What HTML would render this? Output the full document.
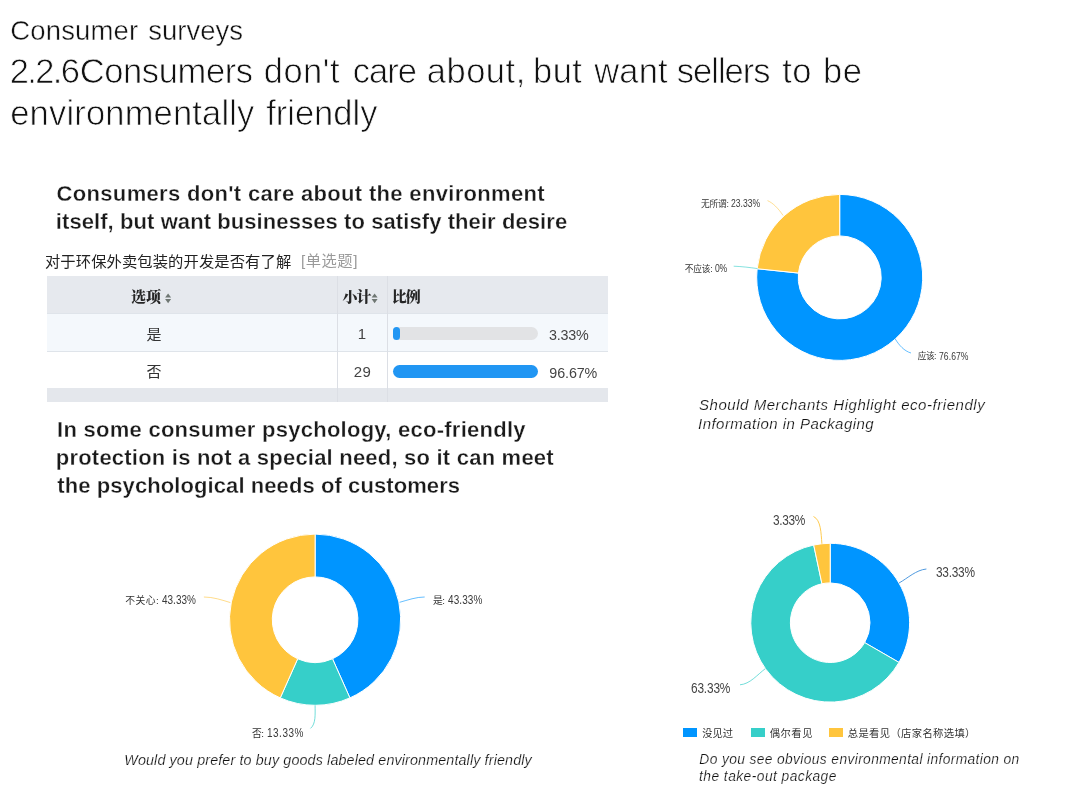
<!DOCTYPE html>
<html lang="en"><head><meta charset="utf-8"><title>Consumer surveys</title>
<style>
html,body{margin:0;padding:0;background:#fff;}
body{width:1065px;height:800px;position:relative;overflow:hidden;font-family:"Liberation Sans","Noto Sans CJK SC",sans-serif;color:#1a1a1a;}
.abs{position:absolute;white-space:nowrap;}
.tbl{position:absolute;left:47px;top:276px;width:561px;height:125.8px;overflow:hidden;}
.row{position:absolute;left:0;width:561px;box-sizing:border-box;}
.vl{position:absolute;top:0;width:1px;height:126px;background:#dcdfe5;}
.bar{position:absolute;left:345.8px;height:13px;border-radius:6.5px;}
.lg{position:absolute;top:728.3px;width:14px;height:8.5px;}
svg{position:absolute;left:0;top:0;}
</style></head><body>
<div class="tbl">
  <div class="row" style="top:0;height:37px;background:#e6e9ee;"></div>
  <div class="row" style="top:37px;height:38px;background:#f4f8fc;border-top:1px solid #dfe4ea;"></div>
  <div class="row" style="top:75px;height:37px;background:#fff;border-top:1px solid #dfe4ea;"></div>
  <div class="row" style="top:112px;height:14px;background:#e4e7ec;"></div>
  <div class="vl" style="left:289.5px;"></div>
  <div class="vl" style="left:340.3px;"></div>
  <div class="bar" style="top:51.3px;width:145.5px;background:#e2e3e5"></div>
  <div class="bar" style="top:51.3px;width:7px;background:#2196f3"></div>
  <div class="bar" style="top:89.4px;width:145.5px;background:#2196f3"></div>
</div>
<div class="lg" style="left:683px;background:#0095ff"></div>
<div class="lg" style="left:751px;background:#36cfc9"></div>
<div class="lg" style="left:829.3px;background:#ffc53d"></div>
<svg width="1065" height="800" viewBox="0 0 1065 800">
<path d="M839.70,194.40 A83,83 0 1 1 757.15,268.72 L798.43,273.06 A41.5,41.5 0 1 0 839.70,235.90 Z" fill="#0095ff" stroke="#fff" stroke-width="1"/>
<path d="M757.15,268.72 A83,83 0 0 1 839.70,194.40 L839.70,235.90 A41.5,41.5 0 0 0 798.43,273.06 Z" fill="#ffc53d" stroke="#fff" stroke-width="1"/>
<path d="M767.5,200.6 C773,203 778,208 783.1,215.5" fill="none" stroke="#ffc53d" stroke-width="1" opacity="0.55"/>
<path d="M733.7,266.2 C742,266.5 750,267.5 757.5,268.6" fill="none" stroke="#36cfc9" stroke-width="1" opacity="0.6"/>
<path d="M895.2,338.9 C899,345 904,351 911,353" fill="none" stroke="#0095ff" stroke-width="1" opacity="0.6"/>
<path d="M315.10,534.10 A85.6,85.6 0 0 1 349.92,697.90 L332.51,658.80 A42.8,42.8 0 0 0 315.10,576.90 Z" fill="#0095ff" stroke="#fff" stroke-width="1"/>
<path d="M349.92,697.90 A85.6,85.6 0 0 1 280.28,697.90 L297.69,658.80 A42.8,42.8 0 0 0 332.51,658.80 Z" fill="#36cfc9" stroke="#fff" stroke-width="1"/>
<path d="M280.28,697.90 A85.6,85.6 0 0 1 315.10,534.10 L315.10,576.90 A42.8,42.8 0 0 0 297.69,658.80 Z" fill="#ffc53d" stroke="#fff" stroke-width="1"/>
<path d="M203.9,597 C213,597 222,600 230.4,602.6" fill="none" stroke="#ffc53d" stroke-width="1" opacity="0.6"/>
<path d="M399.6,602.3 C408,600 416,597 424.7,597" fill="none" stroke="#0095ff" stroke-width="1" opacity="0.6"/>
<path d="M315.1,705.3 C315.1,714 316,724 310.5,728.4" fill="none" stroke="#36cfc9" stroke-width="1" opacity="0.7"/>
<path d="M830.20,543.30 A79.4,79.4 0 0 1 898.96,662.40 L864.67,642.60 A39.8,39.8 0 0 0 830.20,582.90 Z" fill="#0095ff" stroke="#fff" stroke-width="1"/>
<path d="M898.96,662.40 A79.4,79.4 0 1 1 813.69,545.04 L821.93,583.77 A39.8,39.8 0 1 0 864.67,642.60 Z" fill="#36cfc9" stroke="#fff" stroke-width="1"/>
<path d="M813.69,545.04 A79.4,79.4 0 0 1 830.20,543.30 L830.20,582.90 A39.8,39.8 0 0 0 821.93,583.77 Z" fill="#ffc53d" stroke="#fff" stroke-width="1"/>
<path d="M821.9,543.7 C821,533 821,520 813.5,516.5" fill="none" stroke="#ffc53d" stroke-width="1" opacity="0.9"/>
<path d="M899,583 C908,578 916,570 926.4,569" fill="none" stroke="#3d8fdc" stroke-width="1" opacity="0.9"/>
<path d="M765.5,668.5 C757,675 750,684 740,684.8" fill="none" stroke="#36cfc9" stroke-width="1" opacity="0.7"/>
<path d="M165.1,297.6 L171.1,297.6 L168.1,293.4 Z M165.1,299 L171.1,299 L168.1,303.2 Z" fill="#6f7773"/>
<path d="M371.6,297.6 L377.6,297.6 L374.6,293.4 Z M371.6,299 L377.6,299 L374.6,303.2 Z" fill="#6f7773"/>
</svg>
<div id="t1a" class="abs" style="left:10.30px;top:12.17px;font-size:27.5px;line-height:38px;letter-spacing:0.143px;color:#111;-webkit-text-stroke:0.45px #fff;">Consumer </div>
<div id="t1b" class="abs" style="left:148.30px;top:12.17px;font-size:27.5px;line-height:38px;letter-spacing:0.000px;color:#111;-webkit-text-stroke:0.45px #fff;">surveys</div>
<div id="t2a" class="abs" style="left:9.75px;top:47.35px;font-size:34.5px;line-height:48px;letter-spacing:-1.625px;color:#111;-webkit-text-stroke:0.75px #fff;">2.2.6</div>
<div id="t2b" class="abs" style="left:79.70px;top:47.35px;font-size:34.5px;line-height:48px;letter-spacing:-0.375px;color:#111;-webkit-text-stroke:0.75px #fff;">Consumers </div>
<div id="t2c" class="abs" style="left:263.75px;top:47.35px;font-size:34.5px;line-height:48px;letter-spacing:0.500px;color:#111;-webkit-text-stroke:0.75px #fff;">don't </div>
<div id="t2d" class="abs" style="left:352.75px;top:47.35px;font-size:34.5px;line-height:48px;letter-spacing:-1.000px;color:#111;-webkit-text-stroke:0.75px #fff;">care </div>
<div id="t2e" class="abs" style="left:426.80px;top:47.35px;font-size:34.5px;line-height:48px;letter-spacing:0.500px;color:#111;-webkit-text-stroke:0.75px #fff;">about, </div>
<div id="t2f" class="abs" style="left:533.00px;top:47.35px;font-size:34.5px;line-height:48px;letter-spacing:0.500px;color:#111;-webkit-text-stroke:0.75px #fff;">but </div>
<div id="t2g" class="abs" style="left:594.25px;top:47.35px;font-size:34.5px;line-height:48px;letter-spacing:0.167px;color:#111;-webkit-text-stroke:0.75px #fff;">want </div>
<div id="t2h" class="abs" style="left:676.80px;top:47.35px;font-size:34.5px;line-height:48px;letter-spacing:-1.000px;color:#111;-webkit-text-stroke:0.75px #fff;">sellers </div>
<div id="t2i" class="abs" style="left:782.25px;top:47.35px;font-size:34.5px;line-height:48px;letter-spacing:0.500px;color:#111;-webkit-text-stroke:0.75px #fff;">to </div>
<div id="t2j" class="abs" style="left:823.05px;top:47.35px;font-size:34.5px;line-height:48px;letter-spacing:0.500px;color:#111;-webkit-text-stroke:0.75px #fff;">be</div>
<div id="t3a" class="abs" style="left:10.25px;top:89.05px;font-size:34.5px;line-height:48px;letter-spacing:0.179px;color:#111;-webkit-text-stroke:0.75px #fff;">environmentally </div>
<div id="t3b" class="abs" style="left:266.20px;top:89.05px;font-size:34.5px;line-height:48px;letter-spacing:0.000px;color:#111;-webkit-text-stroke:0.75px #fff;">friendly</div>
<div id="h1a" class="abs" style="left:56.55px;top:177.58px;font-size:22px;line-height:31px;letter-spacing:0.329px;font-weight:bold;color:#1a1a1a;-webkit-text-stroke:0.3px #fff;">Consumers don't care about the environment</div>
<div id="h1b" class="abs" style="left:55.80px;top:206.18px;font-size:22px;line-height:31px;letter-spacing:0.080px;font-weight:bold;color:#1a1a1a;-webkit-text-stroke:0.3px #fff;">itself, but want businesses to satisfy their desire</div>
<div id="h2a" class="abs" style="left:57.05px;top:413.58px;font-size:22px;line-height:31px;letter-spacing:0.262px;font-weight:bold;color:#1a1a1a;-webkit-text-stroke:0.3px #fff;">In some consumer psychology, eco-friendly</div>
<div id="h2b" class="abs" style="left:55.80px;top:441.88px;font-size:22px;line-height:31px;letter-spacing:0.213px;font-weight:bold;color:#1a1a1a;-webkit-text-stroke:0.3px #fff;">protection is not a special need, so it can meet</div>
<div id="h2c" class="abs" style="left:57.30px;top:470.18px;font-size:22px;line-height:31px;letter-spacing:0.086px;font-weight:bold;color:#1a1a1a;-webkit-text-stroke:0.3px #fff;">the psychological needs of customers</div>
<div id="c1a" class="abs" style="left:699.05px;top:393.60px;font-size:15px;line-height:21px;letter-spacing:0.539px;font-style:italic;color:#111;-webkit-text-stroke:0.2px #fff;">Should Merchants Highlight eco-friendly</div>
<div id="c1b" class="abs" style="left:698.05px;top:412.60px;font-size:15px;line-height:21px;letter-spacing:0.457px;font-style:italic;color:#111;-webkit-text-stroke:0.2px #fff;">Information in Packaging</div>
<div id="c2" class="abs" style="left:124.25px;top:750.05px;font-size:14.3px;line-height:20px;letter-spacing:0.139px;font-style:italic;color:#111;-webkit-text-stroke:0.2px #fff;">Would you prefer to buy goods labeled environmentally friendly</div>
<div id="c3a" class="abs" style="left:699.30px;top:749.72px;font-size:13.8px;line-height:19px;letter-spacing:0.370px;font-style:italic;color:#111;-webkit-text-stroke:0.2px #fff;">Do you see obvious environmental information on</div>
<div id="c3b" class="abs" style="left:699.05px;top:767.42px;font-size:13.8px;line-height:19px;letter-spacing:0.447px;font-style:italic;color:#111;-webkit-text-stroke:0.2px #fff;">the take-out package</div>
<div id="q1" class="abs" style="left:44.95px;top:250.50px;font-size:15.3px;line-height:21px;letter-spacing:0.100px;color:#222;">对于环保外卖包装的开发是否有了解</div>
<div id="q2" class="abs" style="left:301.00px;top:250.00px;font-size:15.3px;line-height:21px;letter-spacing:0.500px;color:#9a9a9a;">[单选题]</div>
<div id="th1" class="abs" style="left:131.00px;top:287.00px;font-size:15px;line-height:21px;letter-spacing:0.000px;font-weight:900;color:#262626;font-family:'Liberation Serif','Noto Serif CJK SC',serif;">选项</div>
<div id="th2" class="abs" style="left:342.50px;top:287.00px;font-size:15px;line-height:21px;letter-spacing:-1.000px;font-weight:900;color:#262626;font-family:'Liberation Serif','Noto Serif CJK SC',serif;">小计</div>
<div id="th3" class="abs" style="left:391.70px;top:287.00px;font-size:15px;line-height:21px;letter-spacing:-1.000px;font-weight:900;color:#262626;font-family:'Liberation Serif','Noto Serif CJK SC',serif;">比例</div>
<div id="r1a" class="abs" style="left:146.50px;top:323.50px;font-size:15px;line-height:21px;letter-spacing:0.000px;color:#333;">是</div>
<div id="r2a" class="abs" style="left:146.50px;top:361.00px;font-size:15px;line-height:21px;letter-spacing:0.000px;color:#333;">否</div>
<div id="r1b" class="abs" style="left:357.75px;top:323.00px;font-size:15px;line-height:21px;letter-spacing:0.000px;color:#444;">1</div>
<div id="r2b" class="abs" style="left:353.65px;top:361.00px;font-size:15px;line-height:21px;letter-spacing:0.500px;color:#444;">29</div>
<div id="r1c" class="abs" style="left:549.10px;top:324.90px;font-size:14.3px;line-height:20px;letter-spacing:-0.250px;color:#444;">3.33%</div>
<div id="r2c" class="abs" style="left:549.35px;top:362.50px;font-size:14.3px;line-height:20px;letter-spacing:-0.100px;color:#444;">96.67%</div>
<div id="l1a" class="abs" style="left:700.95px;top:197.50px;font-size:8.7px;line-height:12px;letter-spacing:-0.167px;color:#333;">无所谓: </div>
<div id="l1a2" class="abs" style="left:731.20px;top:196.00px;font-size:11px;line-height:15px;letter-spacing:0.000px;color:#3a3a3a;transform:scaleX(0.78);transform-origin:0 50%;">23.33%</div>
<div id="l1b" class="abs" style="left:684.75px;top:262.50px;font-size:8.7px;line-height:12px;letter-spacing:-0.167px;color:#333;">不应该: </div>
<div id="l1b2" class="abs" style="left:715.35px;top:261.00px;font-size:11px;line-height:15px;letter-spacing:-0.300px;color:#3a3a3a;transform:scaleX(0.78);transform-origin:0 50%;">0%</div>
<div id="l1c" class="abs" style="left:917.70px;top:350.20px;font-size:8.7px;line-height:12px;letter-spacing:-0.500px;color:#333;">应该: </div>
<div id="l1c2" class="abs" style="left:939.45px;top:348.70px;font-size:11px;line-height:15px;letter-spacing:0.100px;color:#3a3a3a;transform:scaleX(0.78);transform-origin:0 50%;">76.67%</div>
<div id="l2a" class="abs" style="left:125.15px;top:594.10px;font-size:9.8px;line-height:14px;letter-spacing:0.500px;color:#333;">不关心: </div>
<div id="l2a2" class="abs" style="left:162.00px;top:592.30px;font-size:11.9px;line-height:17px;letter-spacing:-0.000px;color:#3a3a3a;transform:scaleX(0.84);transform-origin:0 50%;">43.33%</div>
<div id="l2b" class="abs" style="left:433.05px;top:594.10px;font-size:9.8px;line-height:14px;letter-spacing:-0.500px;color:#333;">是: </div>
<div id="l2b2" class="abs" style="left:448.25px;top:592.30px;font-size:11.9px;line-height:17px;letter-spacing:0.100px;color:#3a3a3a;transform:scaleX(0.84);transform-origin:0 50%;">43.33%</div>
<div id="l2c" class="abs" style="left:251.95px;top:726.60px;font-size:9.8px;line-height:14px;letter-spacing:-0.500px;color:#333;">否: </div>
<div id="l2c2" class="abs" style="left:267.00px;top:724.80px;font-size:11.9px;line-height:17px;letter-spacing:0.600px;color:#3a3a3a;transform:scaleX(0.84);transform-origin:0 50%;">13.33%</div>
<div id="l3a" class="abs" style="left:773.45px;top:511.40px;font-size:13.8px;line-height:19px;letter-spacing:-0.375px;color:#444;transform:scaleX(0.86);transform-origin:0 50%;">3.33%</div>
<div id="l3b" class="abs" style="left:935.65px;top:563.40px;font-size:13.8px;line-height:19px;letter-spacing:-0.300px;color:#444;transform:scaleX(0.86);transform-origin:0 50%;">33.33%</div>
<div id="l3c" class="abs" style="left:690.90px;top:678.80px;font-size:13.8px;line-height:19px;letter-spacing:-0.200px;color:#444;transform:scaleX(0.86);transform-origin:0 50%;">63.33%</div>
<div id="g1" class="abs" style="left:702.20px;top:727.30px;font-size:10.3px;line-height:14px;letter-spacing:0.000px;color:#333;">没见过</div>
<div id="g2" class="abs" style="left:769.75px;top:727.30px;font-size:10.3px;line-height:14px;letter-spacing:0.500px;color:#333;">偶尔看见</div>
<div id="g3" class="abs" style="left:847.80px;top:727.30px;font-size:10.3px;line-height:14px;letter-spacing:0.364px;color:#333;">总是看见（店家名称选填）</div>
</body></html>
